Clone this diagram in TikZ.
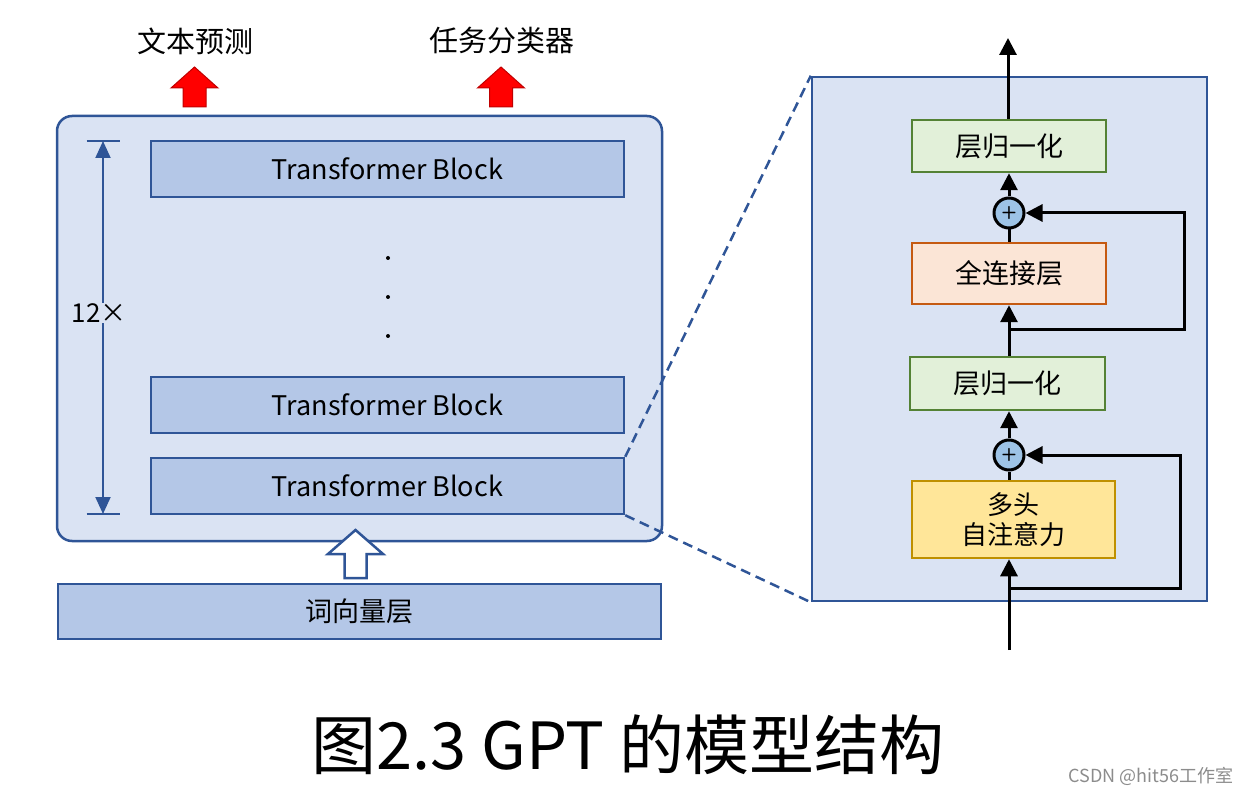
\documentclass[tikz,border=0pt]{standalone}
\usepackage{fontspec}
\newfontfamily\cjk{Noto Sans CJK SC}
\usetikzlibrary{calc}
\usetikzlibrary{arrows.meta}

\definecolor{panelfill}{HTML}{DAE3F3}
\definecolor{panelline}{HTML}{2F5597}
\definecolor{blockfill}{HTML}{B4C7E7}
\definecolor{normfill}{HTML}{E2F0D9}
\definecolor{normline}{HTML}{548235}
\definecolor{fcfill}{HTML}{FBE5D6}
\definecolor{fcline}{HTML}{C55A11}
\definecolor{attfill}{HTML}{FFE699}
\definecolor{attline}{HTML}{BF9000}
\definecolor{addfill}{HTML}{9DC3E6}
\definecolor{outred}{HTML}{FF0000}
\definecolor{outredline}{HTML}{C00000}

\begin{document}
\begin{tikzpicture}[x=1pt,y=-1pt,
    txt/.style={font=\cjk\fontsize{27}{33}\selectfont},
    frame/.style={draw=panelline,fill=panelfill,line width=2.5pt,inner sep=0pt},
    tblock/.style={draw=panelline,fill=blockfill,line width=2.5pt,inner sep=0pt,
      minimum width=473pt,minimum height=56pt,txt},
    layer/.style={line width=2.5pt,inner sep=0pt,minimum width=194pt,txt},
    addnode/.style={circle,draw=black,fill=addfill,line width=3pt,minimum size=30pt,
      inner sep=0pt,font=\sffamily\bfseries\fontsize{18}{18}\selectfont},
    flow/.style={line width=3pt,-{Triangle[length=17pt,width=17pt]}},
    loopline/.style={line width=3pt},
    zoomline/.style={draw=panelline,line width=2.5pt,dash pattern=on 10pt off 6pt},
    dim/.style={draw=panelline,line width=2pt,-{Triangle[length=17pt,width=15pt]}}]
    \useasboundingbox (0,0) rectangle (1254,794);
    % left: the stack of blocks
    \node[frame,rounded corners=15pt,minimum width=605pt,minimum height=425pt] (stack) at (359.5,328.5) {};
    \node[tblock] (tb1) at (387.5,169) {Transformer Block};
    \node[tblock] (tb2) at (387.5,405) {Transformer Block};
    \node[tblock] (tb3) at (387.5,486) {Transformer Block};
    \fill (388,258) circle (2) (388,297) circle (2) (388,336) circle (2);
    \node[tblock,minimum width=603pt,minimum height=55pt] (embed) at (359.5,611.5) {词向量层};
    %
    \coordinate (dimtop) at (103,141);
    \coordinate (dimbot) at (103,514);
    \draw[panelline,line width=2pt] ($(dimtop)+(-16.5,0)$) -- ($(dimtop)+(16.5,0)$);
    \draw[panelline,line width=2pt] ($(dimbot)+(-16.5,0)$) -- ($(dimbot)+(16.5,0)$);
    \draw[dim] ($(dimtop)!0.5!(dimbot)$) -- (dimtop);
    \draw[dim] ($(dimtop)!0.5!(dimbot)$) -- (dimbot);
    \node[txt,fill=panelfill,inner sep=1pt,font=\cjk\fontsize{26}{30}\selectfont] (times) at (99,313) {12×};
    % outputs
    \node[txt,font=\cjk\fontsize{29}{34}\selectfont] (lmout) at (195,41) {文本预测};
    \node[txt,font=\cjk\fontsize{29}{34}\selectfont] (clsout) at (502,41) {任务分类器};
    \foreach \cx in {194.5,501} {
      \draw[draw=outredline,fill=outred,line width=1pt]
        (\cx-11.5,107) -- (\cx-11.5,88) -- (\cx-23.5,88) -- (\cx,67)
        -- (\cx+23.5,88) -- (\cx+11.5,88) -- (\cx+11.5,107) -- cycle;
    }
    % input
    \draw[draw=panelline,fill=white,line width=2.5pt,line join=miter]
      (344.5,578) -- (344.5,554) -- (328,554) -- (355.5,530)
      -- (383,554) -- (366.5,554) -- (366.5,578) -- cycle;
    %
    % right: one block in detail
    \node[frame,minimum width=395pt,minimum height=524pt] (panel) at (1009.5,339) {};
    \draw[zoomline] (tb3.north east) -- (panel.north west);
    \draw[zoomline] (tb3.south east) -- (panel.south west);
    \node[layer,draw=normline,fill=normfill,minimum height=52pt] (normtop) at (1009,146) {层归一化};
    \node[addnode] (addtop) at (1009,213) {+};
    \node[layer,draw=fcline,fill=fcfill,minimum height=61pt] (ffn) at (1009,273.5) {全连接层};
    \node[layer,draw=normline,fill=normfill,minimum width=195pt,minimum height=53pt] (normbot) at (1007.5,383.5) {层归一化};
    \node[addnode] (addbot) at (1009,455) {+};
    \node[layer,draw=attline,fill=attfill,minimum width=203pt,minimum height=77pt,
      align=center,font=\cjk\fontsize{26}{30}\selectfont] (attn) at (1013.5,519.5) {多头\\自注意力};
    \coordinate (out) at (1008,38);
    \coordinate (in) at (1009,650);
    \coordinate (forktop) at (1009,330);
    \coordinate (looptop) at (1184,213);
    \coordinate (forkbot) at (1010,588);
    \coordinate (loopbot) at (1180,455);
    %
    \draw[flow] (in) -- (in |- attn.south);
    \draw[loopline] (addbot.south |- attn.north) -- (addbot);
    \draw[flow] (addbot) -- (addbot |- normbot.south);
    \draw[flow] (forkbot) -| (loopbot) -- (addbot);
    \draw[flow] (normbot.north -| addtop) -- (addtop |- ffn.south);
    \draw[loopline] (ffn) -- (addtop);
    \draw[flow] (addtop) -- (normtop);
    \draw[flow] (forktop) -| (looptop) -- (addtop);
    \draw[flow] (normtop.north -| out) -- (out);
    % caption
    \node[font=\cjk\fontsize{65}{70}\selectfont] (caption) at (628,745) {图2.3 GPT 的模型结构};
    \node[font=\cjk\fontsize{18}{20}\selectfont,text=black!45] (mark) at (1151,776) {CSDN @hit56工作室};
\end{tikzpicture}
\end{document}
